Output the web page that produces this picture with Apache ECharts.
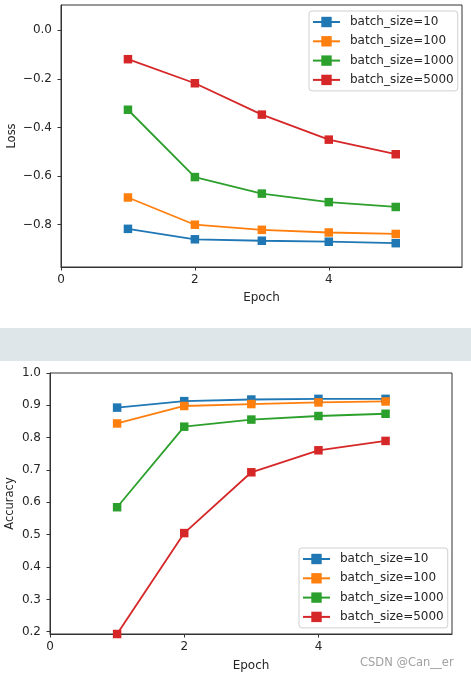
<!DOCTYPE html>
<html>
<head>
<meta charset="utf-8">
<script src="https://cdn.jsdelivr.net/npm/echarts@6/dist/echarts.min.js"></script>
<style>html,body{margin:0;padding:0;background:#fff}#c{width:471px;height:679px}</style>
</head>
<body>
<div id="c"></div>
<script>
const epochs = [1, 2, 3, 4, 5];
const seriesNames = ['batch_size=10', 'batch_size=100', 'batch_size=1000', 'batch_size=5000'];
const colors = ['#1f77b4', '#ff7f0e', '#2ca02c', '#d62728'];
const loss10 = [-0.817, -0.860, -0.866, -0.870, -0.876];
const loss100 = [-0.688, -0.800, -0.821, -0.832, -0.838];
const loss1000 = [-0.327, -0.604, -0.672, -0.707, -0.727];
const loss5000 = [-0.119, -0.218, -0.347, -0.450, -0.510];
const acc10 = [0.893, 0.913, 0.918, 0.920, 0.920];
const acc100 = [0.844, 0.898, 0.904, 0.909, 0.912];
const acc1000 = [0.585, 0.834, 0.856, 0.867, 0.874];
const acc5000 = [0.193, 0.505, 0.693, 0.761, 0.790];
const xTicks = [0, 2, 4];
const lossTicks = [-0.8, -0.6, -0.4, -0.2, 0.0];
const accTicks = [0.2, 0.3, 0.4, 0.5, 0.6, 0.7, 0.8, 0.9, 1.0];

const lossData = [loss10, loss100, loss1000, loss5000];
const accData = [acc10, acc100, acc1000, acc5000];
const FONT = 'DejaVu Sans';
const TXT = '#262626';

function fmt(v) {
  const s = Math.abs(v).toFixed(1);
  return (v < -1e-9 ? '\u2212' : '') + s;
}
function xAxisCfg(gridIndex, gap) {
  return {
    type: 'value', gridIndex, min: 0, max: 5.99,
    name: 'Epoch', nameLocation: 'middle', nameGap: gap, nameMoveOverlap: false,
    nameTextStyle: { fontFamily: FONT, fontSize: 12, color: TXT },
    splitLine: { show: false },
    axisLine: { show: true, onZero: false, lineStyle: { color: '#333', width: 1 } },
    axisTick: { show: true, length: 3.5, customValues: xTicks, lineStyle: { color: '#333' } },
    axisLabel: { customValues: xTicks, fontFamily: FONT, fontSize: 12, color: TXT, margin: 7, formatter: v => String(v) }
  };
}
function yAxisCfg(gridIndex, min, max, ticks, name, gap) {
  return {
    type: 'value', gridIndex, min, max, scale: true,
    name, nameLocation: 'middle', nameGap: gap, nameRotate: 90, nameMoveOverlap: false,
    nameTextStyle: { fontFamily: FONT, fontSize: 11.5, color: TXT },
    splitLine: { show: false },
    axisLine: { show: true, onZero: false, lineStyle: { color: '#333', width: 1 } },
    axisTick: { show: true, length: 3.5, customValues: ticks, lineStyle: { color: '#333' } },
    axisLabel: { customValues: ticks, fontFamily: FONT, fontSize: 12, color: TXT, margin: 9, formatter: fmt }
  };
}
function legendCfg(left, top) {
  return {
    data: seriesNames, orient: 'vertical', left, top,
    padding: [5, 4, 5, 3], itemWidth: 27, itemHeight: 13, itemGap: 7.3,
    borderColor: '#d0d0d0', borderWidth: 1, borderRadius: 3,
    backgroundColor: 'rgba(255,255,255,0.85)',
    textStyle: { fontFamily: FONT, fontSize: 12, color: TXT, padding: [0, 0, 0, 5] }
  };
}
const series = [];
[lossData, accData].forEach((group, gi) => {
  group.forEach((vals, i) => {
    series.push({
      type: 'line', name: seriesNames[i], xAxisIndex: gi, yAxisIndex: gi,
      data: epochs.map((e, k) => [e, vals[k]]),
      symbol: 'rect', symbolSize: 8.5, showAllSymbol: true, clip: false,
      lineStyle: { color: colors[i], width: 1.8 },
      itemStyle: { color: colors[i] },
      emphasis: { disabled: true }
    });
  });
});

const chart = echarts.init(document.getElementById('c'), null, { renderer: 'canvas' });
chart.setOption({
  animation: false,
  backgroundColor: '#fff',
  grid: [
    { left: 61, top: 5, width: 401, height: 262, show: true, borderColor: '#333', borderWidth: 1, backgroundColor: 'transparent', containLabel: false, outerBoundsMode: 'none' },
    { left: 50, top: 373, width: 402, height: 261, show: true, borderColor: '#333', borderWidth: 1, backgroundColor: 'transparent', containLabel: false, outerBoundsMode: 'none' }
  ],
  xAxis: [xAxisCfg(0, 25), xAxisCfg(1, 26)],
  yAxis: [
    yAxisCfg(0, -0.974, 0.104, lossTicks, 'Loss', 43),
    yAxisCfg(1, 0.193, 1.0, accTicks, 'Accuracy', 34)
  ],
  legend: [legendCfg(309, 11), legendCfg(299, 548)],
  graphic: [
    { type: 'rect', left: 0, top: 328, shape: { width: 471, height: 33 }, style: { fill: '#dfe6e9' }, silent: true },
    { type: 'text', left: 360, top: 657, style: { text: 'CSDN @Can__er', fontFamily: FONT, fontSize: 11.5, fill: '#a0a0a0' }, silent: true }
  ],
  series
});
</script>
</body>
</html>
